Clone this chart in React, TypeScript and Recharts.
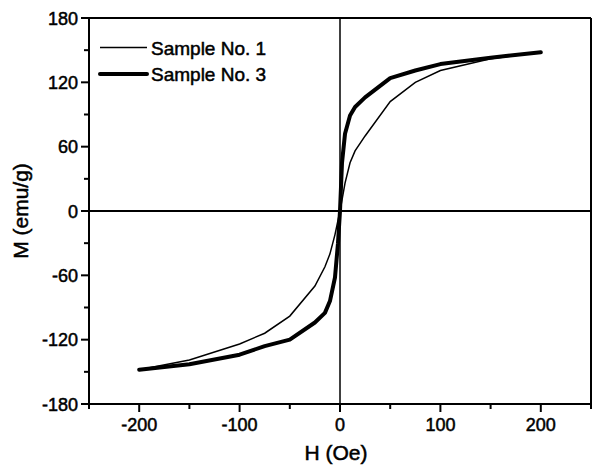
import React from 'react';
import { LineChart, Line, XAxis, YAxis, ReferenceLine, Legend } from 'recharts';

// Sample No. 1 (thin line)
const H_SAMPLE1 = [-200, -150, -100, -75, -50, -25, -15, -10, -5, 0, 5, 10, 15, 25, 50, 75, 100, 150, 200];
const M_SAMPLE1 = [-148, -139, -124, -114, -98, -70, -52, -40, -22, 0, 26, 45, 56, 70, 102, 120, 131, 142, 148];

// Sample No. 3 (thick line)
const H_SAMPLE3 = [-200, -150, -100, -75, -50, -25, -15, -10, -5, -2, 0, 2, 5, 10, 15, 25, 50, 75, 100, 150, 200];
const M_SAMPLE3 = [-148, -143, -134, -126, -120, -104, -95, -84, -62, -30, 0, 45, 72, 89, 97, 106, 124, 131, 137, 143, 148];

const X_TICKS = [-250, -200, -150, -100, -50, 0, 50, 100, 150, 200, 250];
const X_MAJOR = [-200, -100, 0, 100, 200];
const Y_TICKS = [-180, -150, -120, -90, -60, -30, 0, 30, 60, 90, 120, 150, 180];
const Y_MAJOR = [-180, -120, -60, 0, 60, 120, 180];

const SERIES_NAMES = ['Sample No. 1', 'Sample No. 3'];

const data1 = H_SAMPLE1.map((h, i) => ({ h, m: M_SAMPLE1[i] }));
const data3 = H_SAMPLE3.map((h, i) => ({ h, m: M_SAMPLE3[i] }));

const FONT = '"Liberation Sans", Arial, sans-serif';
const TXT = { fontFamily: FONT, fill: '#000', stroke: '#000', strokeWidth: 0.5 } as const;

const XTick = (props: any) => {
  const { x, y, payload } = props;
  const major = X_MAJOR.includes(payload.value);
  return (
    <g>
      <line x1={x} x2={x} y1={y} y2={y + (major ? 8 : 5)} stroke="#000" strokeWidth={2} />
      {major && (
        <text x={x} y={y + 27} textAnchor="middle" fontSize={18} {...TXT}>
          {payload.value}
        </text>
      )}
    </g>
  );
};

const YTick = (props: any) => {
  const { x, y, payload } = props;
  const major = Y_MAJOR.includes(payload.value);
  return (
    <g>
      <line x1={x - (major ? 8 : 5)} x2={x} y1={y} y2={y} stroke="#000" strokeWidth={2} />
      {major && (
        <text x={x - 11} y={y + 6.5} textAnchor="end" fontSize={18} {...TXT}>
          {payload.value}
        </text>
      )}
    </g>
  );
};

const renderLegend = () => (
  <svg width={220} height={56}>
    <line x1={2} x2={49} y1={12.5} y2={12.5} stroke="#000" strokeWidth={1.5} />
    <text x={53} y={19.5} fontSize={19} {...TXT}>{SERIES_NAMES[0]}</text>
    <line x1={2} x2={49} y1={39} y2={39} stroke="#000" strokeWidth={4} strokeLinecap="round" />
    <text x={53} y={46} fontSize={19} {...TXT}>{SERIES_NAMES[1]}</text>
  </svg>
);

export default function App() {
  return (
    <div style={{ position: 'absolute', left: 0, top: 0, background: '#fff' }}>
      <LineChart width={593} height={469} margin={{ top: 18, right: 2, left: 0, bottom: 0 }}>
        <XAxis
          dataKey="h"
          type="number"
          domain={[-250, 250]}
          ticks={X_TICKS}
          interval={0}
          allowDataOverflow
          height={65}
          tickSize={0}
          tickMargin={0}
          tickLine={false}
          axisLine={{ stroke: '#000', strokeWidth: 2 }}
          tick={<XTick />}
          label={() => (
            <text x={336} y={460} textAnchor="middle" fontSize={21} {...TXT}>
              H (Oe)
            </text>
          )}
        />
        <YAxis
          dataKey="m"
          type="number"
          domain={[-180, 180]}
          ticks={Y_TICKS}
          interval={0}
          allowDataOverflow
          width={89}
          tickSize={0}
          tickMargin={0}
          tickLine={false}
          axisLine={{ stroke: '#000', strokeWidth: 2 }}
          tick={<YTick />}
          label={() => (
            <text x={28} y={211} transform="rotate(-90 28 211)" textAnchor="middle" fontSize={21} {...TXT}>
              M (emu/g)
            </text>
          )}
        />
        <ReferenceLine y={180} stroke="#000" strokeWidth={2} />
        <ReferenceLine x={250} stroke="#000" strokeWidth={2} />
        <ReferenceLine y={0} stroke="#000" strokeWidth={2} />
        <ReferenceLine x={0} stroke="#000" strokeWidth={1.5} />
        <Legend
          content={renderLegend}
          layout="horizontal"
          verticalAlign="middle"
          align="center"
          wrapperStyle={{ position: 'absolute', left: 98, top: 35, width: 220, height: 56 }}
        />
        <Line
          data={data1}
          dataKey="m"
          name={SERIES_NAMES[0]}
          type="linear"
          stroke="#000"
          strokeWidth={1.5}
          dot={false}
          isAnimationActive={false}
        />
        <Line
          data={data3}
          dataKey="m"
          name={SERIES_NAMES[1]}
          type="linear"
          stroke="#000"
          strokeWidth={4}
          strokeLinecap="round"
          strokeLinejoin="round"
          dot={false}
          isAnimationActive={false}
        />
      </LineChart>
    </div>
  );
}
